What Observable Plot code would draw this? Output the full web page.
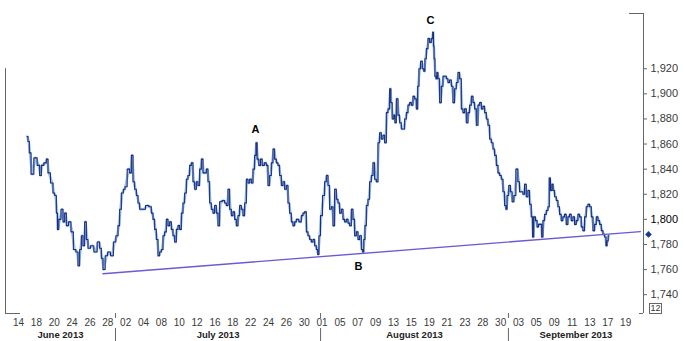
<!DOCTYPE html>
<html><head><meta charset="utf-8">
<script src="https://cdn.jsdelivr.net/npm/d3@7"></script>
<script src="https://cdn.jsdelivr.net/npm/@observablehq/plot@0.6"></script>
<style>
body{margin:0;background:#fff;}
#chart{position:relative;width:683px;height:341px;overflow:hidden;}
#scalebox{position:absolute;left:649px;top:303px;width:11px;height:9px;border:1px solid #666;font:9px 'Liberation Sans',Arial,sans-serif;line-height:9px;text-align:center;color:#333;}
</style>
</head><body><div id="chart"></div>
<script>
// x unit: trading days counted from Fri 14 June 2013 (UK calendar)
const dayLabels = ["14","18","20","24","26","28","02","04","08","10","12","16","18","22","24","26","30","01","05","07","09","13","15","19","21","23","28","30","03","05","09","11","13","17","19"];
const monthNames = ["June 2013","July 2013","August 2013","September 2013"];
const monthBounds = [10.86, 33.83, 54.87];
const yTicks = [1740,1760,1780,1800,1820,1840,1860,1880,1900,1920];

const juneBars = [[0.97,1866],[1.15,1862],[1.27,1853],[1.53,1836],[1.90,1849],[2.27,1843],[2.46,1835],[2.65,1843],[3.02,1845],[3.21,1848],[3.39,1837],[3.77,1829],[3.95,1821],[4.14,1819],[4.33,1805],[4.40,1792],[4.62,1800],[4.89,1808],[5.07,1798],[5.26,1805],[5.45,1795],[5.74,1798],[6.01,1790],[6.27,1776],[6.57,1774],[6.75,1763],[6.94,1776],[7.13,1787],[7.31,1779],[7.50,1798],[7.69,1784],[7.87,1777],[8.25,1779],[8.62,1774],[8.99,1782],[9.18,1777],[9.37,1769],[9.55,1760],[9.85,1771],[10.11,1774],[10.49,1771],[10.75,1782]];
const julyBars = [[11.05,1787],[11.23,1795],[11.42,1808],[11.61,1821],[11.87,1824],[11.98,1826],[12.35,1840],[12.54,1837],[12.73,1851],[12.91,1830],[13.10,1824],[13.29,1819],[13.47,1813],[13.66,1808],[14.03,1808],[14.41,1811],[14.78,1810],[14.97,1805],[15.15,1800],[15.34,1792],[15.53,1784],[15.71,1771],[15.90,1774],[16.09,1776],[16.27,1787],[16.46,1790],[16.65,1800],[16.83,1795],[17.02,1798],[17.21,1792],[17.39,1787],[17.58,1782],[17.77,1792],[17.95,1795],[18.14,1792],[18.33,1805],[18.51,1813],[18.70,1821],[18.89,1832],[19.07,1835],[19.26,1843],[19.45,1845],[19.63,1830],[19.82,1824],[20.01,1830],[20.19,1827],[20.38,1840],[20.57,1848],[20.75,1837],[20.94,1837],[21.13,1840],[21.31,1830],[21.50,1813],[21.69,1808],[21.87,1805],[22.06,1811],[22.25,1805],[22.43,1795],[22.62,1814],[22.99,1815],[23.18,1813],[23.37,1811],[23.55,1824],[23.74,1808],[23.93,1803],[24.11,1806],[24.30,1800],[24.49,1795],[24.67,1803],[24.86,1811],[25.05,1808],[25.23,1803],[25.42,1813],[25.61,1832],[25.79,1829],[25.98,1832],[26.17,1829],[26.35,1840],[26.54,1851],[26.65,1861],[26.80,1848],[27.02,1843],[27.18,1848],[27.40,1843],[27.66,1845],[27.85,1843],[28.03,1827],[28.22,1835],[28.41,1845],[28.59,1856],[28.78,1848],[28.97,1845],[29.15,1843],[29.34,1835],[29.53,1827],[29.71,1830],[29.90,1824],[30.09,1827],[30.27,1813],[30.46,1805],[30.65,1798],[30.83,1795],[31.02,1798],[31.21,1800],[31.58,1798],[31.77,1803],[31.95,1805],[32.14,1806],[32.33,1790],[32.51,1787],[32.70,1784],[32.89,1782],[33.07,1784],[33.26,1779],[33.45,1776],[33.56,1772],[33.74,1787]];
const augustBars = [[33.90,1803],[34.19,1819],[34.38,1830],[34.57,1835],[34.75,1827],[34.94,1808],[35.13,1810],[35.31,1795],[35.50,1824],[35.69,1816],[35.87,1813],[36.06,1805],[36.25,1808],[36.43,1800],[36.62,1798],[36.81,1800],[36.99,1797],[37.18,1795],[37.37,1808],[37.55,1800],[37.74,1787],[37.93,1790],[38.11,1784],[38.30,1787],[38.49,1776],[38.60,1774],[38.74,1784],[38.86,1795],[39.05,1811],[39.23,1816],[39.42,1830],[39.61,1835],[39.79,1845],[39.98,1832],[40.17,1830],[40.35,1861],[40.54,1869],[40.73,1864],[40.91,1867],[41.10,1861],[41.29,1885],[41.47,1888],[41.66,1904],[41.74,1893],[41.96,1880],[42.10,1883],[42.22,1877],[42.41,1896],[42.59,1883],[42.78,1877],[42.97,1872],[43.15,1872],[43.34,1880],[43.53,1885],[43.71,1891],[43.90,1893],[44.09,1891],[44.27,1898],[44.46,1896],[44.65,1888],[44.76,1906],[44.94,1920],[45.13,1926],[45.32,1920],[45.46,1918],[45.58,1928],[45.77,1936],[45.95,1944],[46.14,1941],[46.33,1944],[46.44,1949],[46.51,1938],[46.58,1928],[46.70,1914],[46.81,1912],[46.89,1917],[47.07,1912],[47.26,1893],[47.45,1906],[47.63,1914],[47.82,1914],[48.01,1912],[48.19,1909],[48.38,1911],[48.57,1906],[48.75,1893],[48.94,1904],[49.13,1909],[49.31,1917],[49.50,1912],[49.69,1888],[49.87,1885],[50.06,1888],[50.25,1877],[50.43,1885],[50.62,1891],[50.81,1898],[50.99,1893],[51.18,1888],[51.37,1875],[51.55,1891],[51.74,1893],[51.93,1888],[52.11,1890],[52.30,1885],[52.49,1880],[52.67,1875],[52.86,1864],[53.05,1861],[53.23,1856],[53.42,1851],[53.61,1843],[53.79,1837],[53.98,1835],[54.17,1832],[54.35,1822],[54.54,1811],[54.65,1808],[54.79,1819]];
const septemberBars = [[55.02,1827],[55.17,1822],[55.40,1814],[55.57,1819],[55.84,1840],[56.02,1830],[56.21,1822],[56.40,1822],[56.59,1820],[56.77,1828],[56.96,1818],[57.15,1823],[57.33,1812],[57.52,1802],[57.64,1786],[57.78,1802],[58.01,1799],[58.15,1794],[58.34,1796],[58.54,1796],[58.65,1786],[58.83,1799],[59.02,1804],[59.21,1807],[59.39,1810],[59.50,1833],[59.66,1823],[59.81,1828],[59.95,1823],[60.14,1818],[60.33,1815],[60.50,1810],[60.69,1804],[60.88,1799],[61.06,1802],[61.25,1804],[61.44,1796],[61.62,1802],[61.81,1804],[62.00,1799],[62.19,1802],[62.37,1796],[62.56,1799],[62.75,1804],[62.93,1802],[63.12,1794],[63.31,1791],[63.49,1802],[63.68,1810],[63.87,1812],[64.06,1810],[64.25,1802],[64.43,1791],[64.62,1796],[64.81,1802],[64.99,1799],[65.18,1796],[65.37,1791],[65.55,1788],[65.74,1786],[65.85,1779],[65.99,1783],[66.10,1787]];

const trendline = [[9.46,1756.7],[69.65,1790.2]];
const annotationLabels = ["A","B","C"];
const annotationDays = [26.54, 38.07, 46.14];
const annotationValues = [1871.4, 1762.3, 1958.2];
const lastPrice = 1788;

const xMin = -1.46, xMax = 70, yMin = 1725, yMax = 1964;
const bars = [...juneBars, ...julyBars, ...augustBars, ...septemberBars].map(([t, v]) => ({t, v}));
const dayTicks = dayLabels.map((label, i) => ({t: i * 2, label}));
const edges = [xMin, ...monthBounds, xMax];
const months = monthNames.map((name, i) => ({name, t: (edges[i] + edges[i + 1]) / 2}));
const annotations = annotationLabels.map((label, i) => ({label, t: annotationDays[i], v: annotationValues[i]}));
const fmt = d3.format(",");
const axisColor = "#666";

const chart = Plot.plot({
  width: 683, height: 341,
  marginLeft: 5, marginRight: 40, marginTop: 13, marginBottom: 28,
  x: {domain: [xMin, xMax], axis: null},
  y: {domain: [yMin, yMax], axis: null},
  style: {fontFamily: "'Liberation Sans', Arial, sans-serif", background: "#fff", overflow: "visible"},
  marks: [
    Plot.ruleX([xMin], {y1: yMin, y2: 1920, stroke: axisColor}),
    Plot.ruleX([xMax], {stroke: axisColor}),
    Plot.ruleY([yMax], {insetLeft: 624, stroke: axisColor}),
    Plot.ruleY([yMin], {insetRight: 623, stroke: axisColor}),
    Plot.ruleY([yMin], {insetLeft: 634, stroke: axisColor}),
    Plot.ruleY(yTicks, {insetLeft: 638, insetRight: -4, stroke: axisColor}),
    Plot.text(yTicks, {x: xMax, y: d => d, dx: 7, textAnchor: "start", text: d => fmt(d), fontSize: 11,
      fill: d => d === 1800 ? "#000" : "#3a3a3a", fontWeight: d => d === 1800 ? "bold" : "normal"}),
    Plot.ruleX(monthBounds, {insetTop: 300, insetBottom: -5, stroke: axisColor}),
    Plot.ruleX(monthBounds, {insetTop: 315, insetBottom: -28, stroke: axisColor}),
    Plot.text(dayTicks, {x: "t", y: yMin, dy: 9, text: "label", fontSize: 10, fill: "#3a3a3a"}),
    Plot.text(months, {x: "t", y: yMin, dy: 21, text: "name", fontSize: 9.5, fontWeight: "bold", fill: "#222"}),
    Plot.line(bars, {x: "t", y: "v", stroke: "#9cc3e2", strokeWidth: 2.6}),
    Plot.line(bars, {x: "t", y: "v", curve: "step", stroke: "#1b2a82", strokeWidth: 1.1}),
    Plot.line(trendline, {x: d => d[0], y: d => d[1], stroke: "#6a5ad6", strokeWidth: 1.4}),
    Plot.text(annotations, {x: "t", y: "v", text: "label", fontSize: 11, fontWeight: "bold", fill: "#000"}),
    Plot.dot([lastPrice], {x: xMax, y: d => d, dx: 5, symbol: "diamond2", r: 3, fill: "#1b3a8a", stroke: "none"})
  ]
});
const host = document.getElementById("chart");
host.appendChild(chart);
const box = document.createElement("div");
box.id = "scalebox";
box.textContent = "12";
host.appendChild(box);
</script>
</body></html>
